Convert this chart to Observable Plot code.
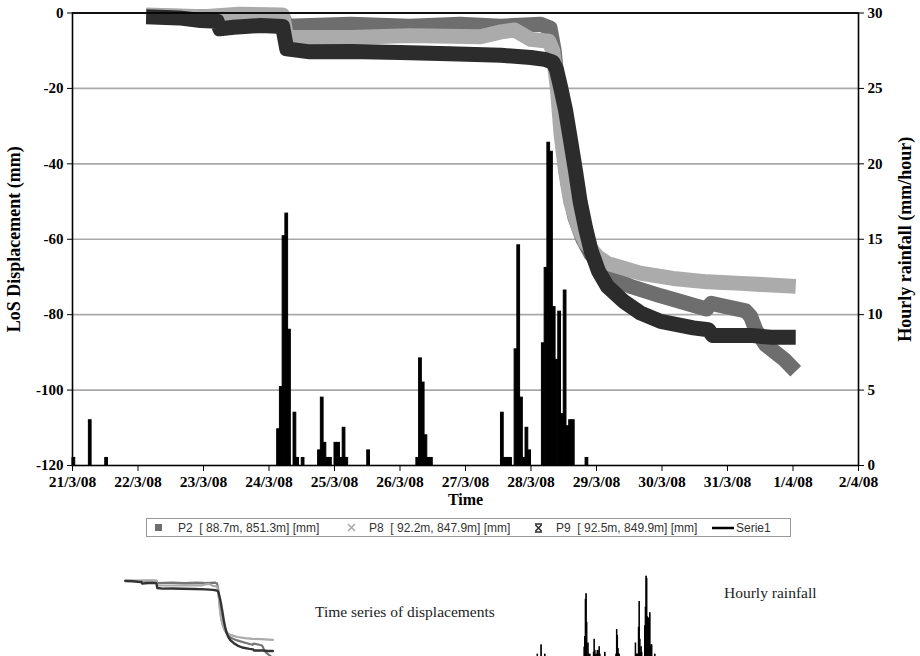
<!DOCTYPE html>
<html><head><meta charset="utf-8">
<script src="https://cdn.jsdelivr.net/npm/d3@7"></script>
<script src="https://cdn.jsdelivr.net/npm/@observablehq/plot@0.6"></script>
<style>
body{margin:0;background:#fff;}
#wrap{position:relative;width:920px;height:656px;overflow:hidden;background:#fff;}
#legend{position:absolute;left:146px;top:518px;width:645px;height:19px;border:1px solid #9a9a9a;box-sizing:border-box;font-family:"Liberation Sans",Arial,sans-serif;font-size:12px;color:#333;}
#legend span{position:absolute;top:2px;white-space:pre;}
#legend svg{position:absolute;top:4px;}
.cap{position:absolute;font-family:"Liberation Serif",serif;font-size:15.5px;color:#222;white-space:nowrap;}
</style></head><body><div id="wrap"></div>
<script>
// ---- axis ticks ----
const xTickDates = ["2008-03-21","2008-03-22","2008-03-23","2008-03-24","2008-03-25","2008-03-26","2008-03-27","2008-03-28","2008-03-29","2008-03-30","2008-03-31","2008-04-01","2008-04-02"];
const xTickLabels = ["21/3/08","22/3/08","23/3/08","24/3/08","25/3/08","26/3/08","27/3/08","28/3/08","29/3/08","30/3/08","31/3/08","1/4/08","2/4/08"];
const dispTicks = [-120,-100,-80,-60,-40,-20,0];
const rainTicks = [0,5,10,15,20,25,30];

// ---- P2 [88.7m, 851.3m] ----
const p2Times = ["2008-03-22T03:00","2008-03-23T00:00","2008-03-23T14:00","2008-03-24T05:00","2008-03-24T06:30","2008-03-25T06:00","2008-03-26T03:30","2008-03-26T22:00","2008-03-27T13:00","2008-03-28T03:30","2008-03-28T07:00","2008-03-28T08:30","2008-03-28T10:00","2008-03-28T11:40","2008-03-28T13:30","2008-03-28T16:00","2008-03-28T19:00","2008-03-28T22:00","2008-03-29T02:00","2008-03-29T05:00","2008-03-29T12:30","2008-03-29T23:30","2008-03-30T11:30","2008-03-30T16:20","2008-03-30T18:00","2008-03-31T06:40","2008-03-31T08:30","2008-03-31T10:20","2008-03-31T14:00","2008-03-31T17:30","2008-03-31T21:00","2008-04-01T01:00"];
const p2Values = [-0.8,-1.0,-0.8,-1.0,-3.5,-3.0,-3.5,-3.0,-3.5,-3.0,-4,-10,-21,-33,-45,-54,-60,-64,-67,-70,-72.5,-75,-77.5,-78.5,-77,-79,-80.5,-84,-88,-90,-92,-95];

// ---- P8 [92.2m, 847.9m] ----
const p8Times = ["2008-03-22T03:00","2008-03-23T00:00","2008-03-23T13:00","2008-03-24T05:00","2008-03-24T06:30","2008-03-25T06:00","2008-03-26T03:30","2008-03-27T05:30","2008-03-27T13:00","2008-03-27T18:00","2008-03-28T00:00","2008-03-28T06:30","2008-03-28T08:00","2008-03-28T09:40","2008-03-28T11:00","2008-03-28T12:40","2008-03-28T14:30","2008-03-28T17:30","2008-03-28T20:00","2008-03-29T00:30","2008-03-29T04:00","2008-03-29T16:00","2008-03-30T04:00","2008-03-30T16:40","2008-03-31T05:00","2008-04-01T01:00"];
const p8Values = [-0.5,-1.0,-0.3,-0.5,-6.5,-6.5,-6.0,-6.3,-5.0,-4.5,-7.0,-7.5,-10,-20,-32,-42,-50,-57,-61,-64.7,-66.4,-69,-70.4,-71.3,-71.7,-72.5];

// ---- P9 [92.5m, 849.9m] ----
const p9Times = ["2008-03-22T03:00","2008-03-22T15:00","2008-03-22T23:00","2008-03-23T05:00","2008-03-23T06:00","2008-03-23T11:00","2008-03-23T21:00","2008-03-24T05:00","2008-03-24T06:30","2008-03-24T15:00","2008-03-25T06:00","2008-03-26T00:00","2008-03-26T18:00","2008-03-27T13:00","2008-03-28T00:00","2008-03-28T05:00","2008-03-28T08:00","2008-03-28T09:20","2008-03-28T10:50","2008-03-28T12:40","2008-03-28T14:30","2008-03-28T16:20","2008-03-28T18:00","2008-03-28T20:00","2008-03-28T22:00","2008-03-29T00:45","2008-03-29T04:00","2008-03-29T10:00","2008-03-29T16:00","2008-03-29T23:30","2008-03-30T11:30","2008-03-30T17:00","2008-03-30T18:30","2008-03-31T08:30","2008-03-31T16:00","2008-04-01T01:00"];
const p9Values = [-1.0,-1.3,-2.0,-2.2,-4.2,-3.8,-3.3,-3.6,-9.5,-10.3,-10.2,-10.5,-10.8,-11.2,-11.8,-12.3,-13.0,-15,-19.6,-25.8,-33.8,-42,-50,-57,-63,-68.5,-72.5,-76.5,-79.5,-81.8,-83.5,-84,-85.5,-85.5,-86,-86];

// ---- hourly rainfall (Serie1), mm/hour ----
const rainTimes = ["2008-03-21T00:00","2008-03-21T06:00","2008-03-21T12:00",
"2008-03-24T03:00","2008-03-24T04:00","2008-03-24T05:00","2008-03-24T06:00","2008-03-24T07:00","2008-03-24T09:00","2008-03-24T10:00","2008-03-24T12:00","2008-03-24T18:00","2008-03-24T19:00","2008-03-24T20:00","2008-03-24T21:00","2008-03-24T22:00",
"2008-03-25T00:00","2008-03-25T01:00","2008-03-25T02:00","2008-03-25T03:00","2008-03-25T04:00","2008-03-25T12:00",
"2008-03-26T06:00","2008-03-26T07:00","2008-03-26T08:00","2008-03-26T09:00","2008-03-26T10:00","2008-03-26T11:00",
"2008-03-27T13:00","2008-03-27T14:00","2008-03-27T15:00","2008-03-27T16:00","2008-03-27T18:00","2008-03-27T19:00","2008-03-27T20:00","2008-03-27T21:00","2008-03-27T22:00","2008-03-27T23:00",
"2008-03-28T04:00","2008-03-28T05:00","2008-03-28T06:00","2008-03-28T07:00","2008-03-28T08:00","2008-03-28T09:00","2008-03-28T10:00","2008-03-28T11:00","2008-03-28T12:00","2008-03-28T13:00","2008-03-28T14:00","2008-03-28T15:00","2008-03-28T20:00"];
const rainValues = [0.5,3.0,0.5,
2.4,5.2,15.2,16.7,9.0,3.5,0.5,0.5,1.0,4.5,1.5,0.5,0.5,
1.5,1.5,0.5,2.5,0.5,1.0,
0.5,7.1,5.5,2.0,0.5,0.5,
3.5,0.5,0.5,0.5,7.7,14.6,4.5,0.5,2.5,1.0,
8.1,13.1,21.4,20.8,10.5,7.0,10.2,3.4,11.6,2.6,3.0,3.0,0.5];

const seriesNames = ["P2  [ 88.7m, 851.3m] [mm]","P8  [ 92.2m, 847.9m] [mm]","P9  [ 92.5m, 849.9m] [mm]","Serie1"];
const seriesColors = ["#6e6e6e","#ababab","#2c2c2c","#000000"];

// ---- build tables ----
const utc = s => new Date(s.length <= 10 ? s + "T00:00Z" : s + "Z");
const mk = (ts, vs, k) => ts.map((t, i) => ({t: utc(t), v: vs[i], k}));
const p2 = mk(p2Times, p2Values, "P2");
const p8 = mk(p8Times, p8Values, "P8");
const p9 = mk(p9Times, p9Values, "P9");
const rain = rainTimes.map((t, i) => ({t: utc(t), r: rainValues[i]}));
const xTicks = xTickDates.map(utc);
const labelOf = new Map(xTicks.map((d, i) => [+d, xTickLabels[i]]));
// rainfall shares the plot: 0..30 mm/h maps onto -120..0 mm
const rainToY = r => -120 + r * 4;

const serif = "Liberation Serif, Times New Roman, serif";
const lineOpts = (c) => ({x: "t", y: "v", stroke: c, strokeWidth: 15, strokeLinejoin: "round", strokeLinecap: "butt"});

const main = Plot.plot({
  width: 920, height: 510,
  marginLeft: 72, marginRight: 62, marginTop: 12.5, marginBottom: 45,
  x: {type: "utc", domain: [xTicks[0], xTicks[xTicks.length - 1]]},
  y: {domain: [-120, 0]},
  style: {fontFamily: serif, fontWeight: "bold", fontSize: "15px", color: "#000", background: "#fff", overflow: "visible"},
  marks: [
    Plot.ruleY([-100, -80, -60, -40, -20], {stroke: "#a9a9a9", strokeWidth: 1.6}),
    Plot.rect(rain, {x1: "t", x2: d => d3.utcHour.offset(d.t, 1), y1: () => -120, y2: d => rainToY(d.r), fill: "#000", stroke: "#000", strokeWidth: 1}),
    Plot.line(p2, lineOpts(seriesColors[0])),
    Plot.line(p8, lineOpts(seriesColors[1])),
    Plot.line(p9, lineOpts(seriesColors[2])),
    Plot.ruleY([0], {stroke: "#222", strokeWidth: 1.6}),
    Plot.frame({stroke: "#000", strokeWidth: 1.6}),
    Plot.axisY(dispTicks, {anchor: "left", tickSize: 5, tickPadding: 4, tickFormat: d => String(d), label: null, fontSize: 15, fontWeight: "bold"}),
    Plot.axisY(rainTicks.map(rainToY), {anchor: "right", tickSize: 5, tickPadding: 4, tickFormat: d => String((d + 120) / 4), label: null, fontSize: 15, fontWeight: "bold"}),
    Plot.axisX(xTicks, {anchor: "bottom", tickSize: 6, tickPadding: 4, tickFormat: d => labelOf.get(+d), label: null, fontSize: 15.5, fontWeight: "bold"}),
    Plot.text(["LoS Displacement (mm)"], {frameAnchor: "left", dx: -58, rotate: -90, textAnchor: "middle", fontSize: 18, fontWeight: "bold"}),
    Plot.text(["Hourly rainfall (mm/hour)"], {frameAnchor: "right", dx: 47, rotate: -90, textAnchor: "middle", fontSize: 18, fontWeight: "bold"}),
    Plot.text(["Time"], {frameAnchor: "bottom", dy: 39, textAnchor: "middle", fontSize: 16, fontWeight: "bold"})
  ]
});
main.style.position = "absolute"; main.style.left = "0px"; main.style.top = "0px";
const wrap = document.getElementById("wrap");
wrap.appendChild(main);

// ---- legend ----
const legend = document.createElement("div");
legend.id = "legend";
const NS = "http://www.w3.org/2000/svg";
function sym(left, w, inner) {
  const s = document.createElementNS(NS, "svg");
  s.setAttribute("width", w); s.setAttribute("height", "10");
  s.style.left = left + "px";
  s.innerHTML = inner;
  legend.appendChild(s);
}
function lab(left, text) {
  const sp = document.createElement("span");
  sp.style.left = left + "px"; sp.textContent = text;
  legend.appendChild(sp);
}
sym(6, 12, `<rect x="2" y="1" width="7" height="7" fill="${seriesColors[0]}"/>`);
lab(31, seriesNames[0]);
sym(199, 12, `<path d="M2,1L9,8M9,1L2,8" stroke="${seriesColors[1]}" stroke-width="1.6"/>`);
lab(222, seriesNames[1]);
sym(386, 12, `<path d="M2.5,2L8.5,8M8.5,2L2.5,8M2,1H9M2,9H9" stroke="${seriesColors[2]}" stroke-width="1.5"/>`);
lab(409, seriesNames[2]);
sym(565, 22, `<path d="M0,5H22" stroke="#000" stroke-width="2.5"/>`);
lab(589, seriesNames[3]);
wrap.appendChild(legend);

// ---- thumbnail: displacements ----
const th1 = Plot.plot({
  width: 150, height: 84, margin: 0,
  x: {type: "utc", domain: [utc("2008-03-22"), utc("2008-04-01T02:00")], axis: null},
  y: {domain: [-100, 2], axis: null},
  style: {background: "transparent", overflow: "visible"},
  marks: [
    Plot.line(p2, {x: "t", y: "v", stroke: "#777", strokeWidth: 2.2}),
    Plot.line(p8, {x: "t", y: "v", stroke: "#aaa", strokeWidth: 2.2}),
    Plot.line(p9, {x: "t", y: "v", stroke: "#333", strokeWidth: 2.4})
  ]
});
th1.style.position = "absolute"; th1.style.left = "123px"; th1.style.top = "578px";
wrap.appendChild(th1);

// ---- thumbnail: rainfall ----
const th2 = Plot.plot({
  width: 135, height: 84, margin: 0,
  x: {type: "utc", domain: [utc("2008-03-20T08:00"), utc("2008-03-29T08:00")], axis: null},
  y: {domain: [0, 22.5], axis: null},
  style: {background: "transparent", overflow: "visible"},
  marks: [
    Plot.ruleY([0], {stroke: "#999", strokeWidth: 1}),
    Plot.rect(rain, {x1: "t", x2: d => d3.utcHour.offset(d.t, 1), y1: () => 0, y2: "r", fill: "#000", stroke: "#000", strokeWidth: 0.9})
  ]
});
th2.style.position = "absolute"; th2.style.left = "527px"; th2.style.top = "572px";
wrap.appendChild(th2);

const c1 = document.createElement("div"); c1.className = "cap";
c1.style.left = "315px"; c1.style.top = "603px"; c1.textContent = "Time series of displacements";
wrap.appendChild(c1);
const c2 = document.createElement("div"); c2.className = "cap";
c2.style.left = "724px"; c2.style.top = "584px"; c2.textContent = "Hourly rainfall";
wrap.appendChild(c2);
</script></body></html>
